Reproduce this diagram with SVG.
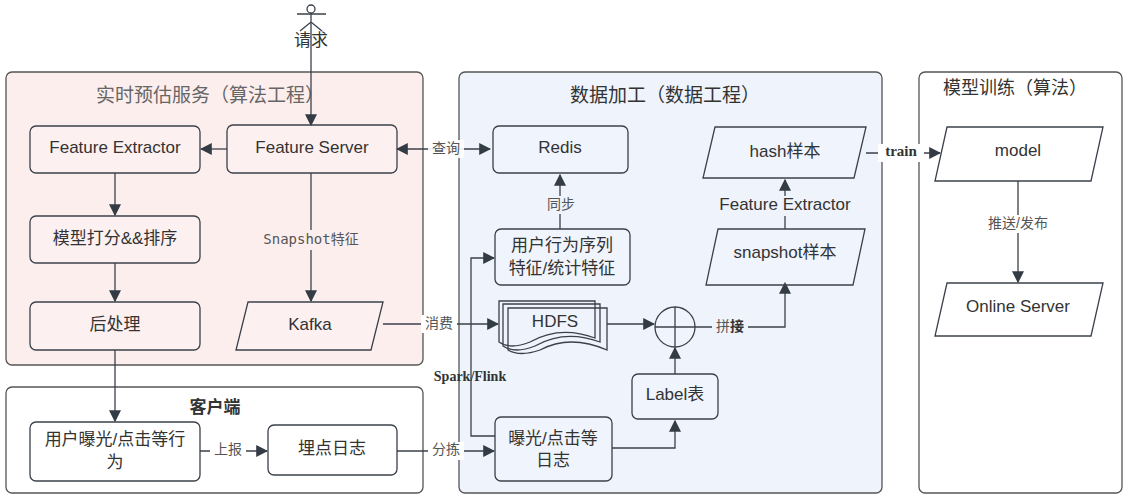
<svg xmlns="http://www.w3.org/2000/svg" width="1130" height="500" viewBox="0 0 1130 500">
<defs>
<style>
text{font-family:"Liberation Sans","Noto Sans CJK SC",sans-serif;fill:#333;text-anchor:middle;dominant-baseline:middle}
text.serif{font-family:"Liberation Serif","Noto Sans CJK SC",serif;font-weight:bold}
text.mono{font-family:"DejaVu Sans Mono","Noto Sans CJK SC",monospace}
.n{fill:none;stroke:#3a414a;stroke-width:1.3}
.b{fill:rgba(255,255,255,0.15);stroke:#3a414a;stroke-width:1.3}
.c{fill:none;stroke:#3a414a;stroke-width:1.3;marker-end:url(#a)}
.t{font-size:17px}
.l{font-size:14px;fill:#555}
</style>
<marker id="a" viewBox="0 0 10 10" refX="9" refY="5" markerWidth="12" markerHeight="12" markerUnits="userSpaceOnUse" orient="auto"><path d="M0,0L10,5L0,10z" fill="#333b44"/></marker>
<marker id="s" viewBox="0 0 10 10" refX="1" refY="5" markerWidth="12" markerHeight="12" markerUnits="userSpaceOnUse" orient="auto"><path d="M10,0L0,5L10,10z" fill="#333b44"/></marker>
</defs>
<rect width="1130" height="500" fill="#fff"/>
<g id="containers">
<rect x="6" y="72" width="417" height="293" rx="6" fill="#fdeeee" stroke="#555" stroke-width="1.3"/>
<text x="210" y="97" style="font-size:19px;fill:#666">实时预估服务（算法工程）</text>
<rect x="6" y="387" width="417" height="106" rx="6" fill="#fff" stroke="#555" stroke-width="1.3"/>
<text x="215" y="409" style="font-size:17px;font-weight:bold">客户端</text>
<rect x="459" y="72" width="423" height="421" rx="6" fill="#eef3fc" stroke="#555" stroke-width="1.3"/>
<text x="665" y="97" style="font-size:19px">数据加工（数据工程）</text>
<rect x="919" y="72" width="203" height="421" rx="6" fill="#fff" stroke="#555" stroke-width="1.3"/>
<text x="1015" y="89" style="font-size:18px">模型训练（算法）</text>
</g>
<g id="actor" class="n">
<circle cx="311" cy="9" r="4"/>
<path d="M297,14H326M311,13V22M300,31L311,22L322,31"/>
</g>
<text x="311" y="42" class="t">请求</text>
<g id="connectors">
<path class="c" d="M311,22V125"/>
<path class="c" d="M227,149H201"/>
<path class="c" d="M115,173V215"/>
<path class="c" d="M115,263V301"/>
<path class="c" d="M115,350V421"/>
<path class="c" d="M311,173V301"/>
<path d="M397,149H490" class="n" marker-start="url(#s)" marker-end="url(#a)"/>
<path class="c" d="M560,229V175"/>
<path class="c" d="M383,324H498"/>
<path class="c" d="M607,324H654"/>
<path class="c" d="M675,374V348"/>
<path class="c" d="M695,327H785V283"/>
<path class="c" d="M785,229V180"/>
<path class="c" d="M866,153H940"/>
<path class="c" d="M1018,181V282"/>
<path class="c" d="M200,451H267"/>
<path class="c" d="M397,451H494"/>
<path class="c" d="M612,448H675V421"/>
<path class="c" d="M495,436H471V258H494"/>
</g>
<g id="labels">
<rect x="428" y="140" width="36" height="18" fill="#fff" opacity="0.9"/><text x="446" y="149" class="l">查询</text>
<rect x="543" y="196" width="36" height="18" fill="#eef3fc"/><text x="561" y="205" class="l">同步</text>
<rect x="252" y="230" width="120" height="20" fill="#fdeeee"/><text x="311" y="240" class="l mono">Snapshot特征</text>
<rect x="421" y="315" width="36" height="18" fill="#fff"/><text x="439" y="324" class="l">消费</text>
<rect x="712" y="318" width="36" height="18" fill="#eef3fc"/><text x="730" y="327" class="l">拼<tspan style="font-weight:bold;fill:#333">接</tspan></text>
<rect x="712" y="196" width="144" height="20" fill="#eef3fc"/><text x="785" y="206" class="t">Feature Extractor</text>
<text x="470" y="378" class="serif" style="font-size:14px">Spark/Flink</text>
<rect x="985" y="215" width="66" height="18" fill="#fff"/><text x="1018" y="224" class="l">推送/发布</text>
<rect x="878" y="144" width="46" height="18" fill="#fff"/><text x="901" y="153" class="serif" style="font-size:15px">train</text>
<rect x="210" y="442" width="36" height="18" fill="#fff"/><text x="228" y="450" class="l">上报</text>
<rect x="428" y="442" width="36" height="18" fill="#fff"/><text x="446" y="450" class="l">分拣</text>
</g>
<g id="featureExtractor"><rect class="b" x="30" y="126" width="170" height="47" rx="6"/><text x="115" y="149" class="t">Feature Extractor</text></g>
<g id="featureServer"><rect class="b" x="227" y="125" width="170" height="48" rx="6"/><text x="312" y="149" class="t">Feature Server</text></g>
<g id="rank"><rect class="b" x="30" y="216" width="170" height="47" rx="6"/><text x="115" y="240" class="t">模型打分&amp;&amp;排序</text></g>
<g id="post"><rect class="b" x="30" y="302" width="170" height="48" rx="6"/><text x="115" y="326" class="t">后处理</text></g>
<g id="kafka"><path class="b" d="M248,302H383L371,350H236Z"/><text x="310" y="326" class="t">Kafka</text></g>
<g id="userAction"><rect class="b" x="30" y="422" width="170" height="59" rx="6"/><text x="115" y="441" class="t">用户曝光/点击等行</text><text x="115" y="464" class="t">为</text></g>
<g id="track"><rect class="b" x="268" y="425" width="129" height="50" rx="6"/><text x="332" y="450" class="t">埋点日志</text></g>
<g id="redis"><rect class="b" x="493" y="126" width="135" height="47" rx="6"/><text x="560" y="149" class="t">Redis</text></g>
<g id="hash"><path class="b" d="M715,127H866L854,178H703Z"/><text x="785" y="153" class="t">hash样本</text></g>
<g id="seq"><rect class="b" x="495" y="229" width="135" height="56" rx="6"/><text x="562" y="247" class="t">用户行为序列</text><text x="562" y="270" class="t">特征/统计特征</text></g>
<g id="snap"><path class="b" d="M718,229H865L853,285H706Z"/><text x="785" y="254" class="t">snapshot样本</text></g>
<g id="hdfs">
<path class="n" fill="#eef3fc" d="M499,301H595V338Q560,325 530,342Q510,350 499,342Z"/>
<path class="n" fill="#eef3fc" d="M503,304H600V342Q565,329 535,346Q515,354 503,346Z"/>
<path class="n" fill="#eef3fc" d="M508,308H607V350Q570,334 540,350Q520,357 508,350Z"/>
<text x="555" y="323" class="t">HDFS</text>
</g>
<g id="join"><circle class="b" cx="675" cy="327" r="20"/><path class="n" d="M655,327H695M675,307V347"/></g>
<g id="label"><rect class="b" x="632" y="374" width="86" height="45" rx="6"/><text x="675" y="396" class="t">Label表</text></g>
<g id="log"><rect class="b" x="495" y="417" width="117" height="64" rx="6"/><text x="553" y="440" class="t">曝光/点击等</text><text x="553" y="462" class="t">日志</text></g>
<g id="model"><path class="b" d="M947,127H1103L1091,181H935Z"/><text x="1018" y="152" class="t">model</text></g>
<g id="online"><path class="b" d="M947,283H1103L1091,336H935Z"/><text x="1018" y="308" class="t">Online Server</text></g>
</svg>
